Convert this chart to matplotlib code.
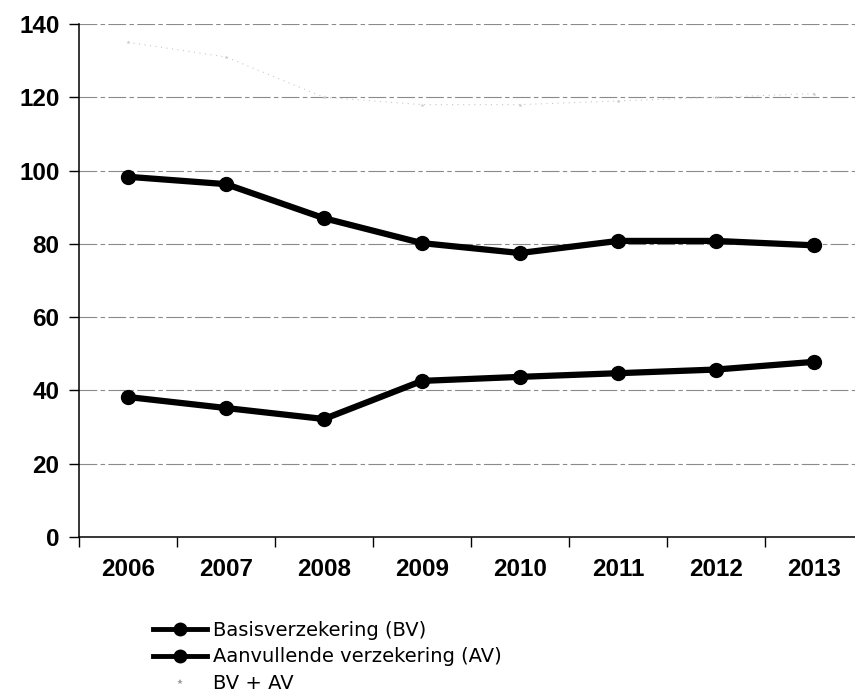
import matplotlib
matplotlib.use("Agg")
import matplotlib.pyplot as plt
import numpy as np

# data
years = ["2006", "2007", "2008", "2009", "2010", "2011", "2012", "2013"]
basis = [98.3, 96.3, 87.0, 80.2, 77.5, 80.8, 80.8, 79.6]
aanvullend = [38.2, 35.2, 32.2, 42.6, 43.7, 44.7, 45.7, 47.8]
bv_av = [135, 131, 120, 118, 118, 119, 120, 121]

labels = ["Basisverzekering (BV)", "Aanvullende verzekering (AV)", "BV + AV"]
y_ticks = [0, 20, 40, 60, 80, 100, 120, 140]

fig = plt.figure(figsize=(8.55, 6.95), dpi=100)
ax = fig.add_axes([79 / 855, 1 - 537 / 695, 784 / 855, 513 / 695])

x = np.arange(len(years))

# gridlines, scanned look: grey broken lines
for yv in y_ticks[1:]:
    ax.axhline(yv, color="#8a8a8a", lw=0.8, ls=(0, (16, 3, 4, 3)), zorder=0)

l1, = ax.plot(x, basis, color="black", lw=4.5, marker="o", ms=10, zorder=3)
l2, = ax.plot(x, aanvullend, color="black", lw=4.5, marker="o", ms=10, zorder=3)
l3, = ax.plot(x, bv_av, color="#c8c8c8", lw=0.8, ls=(0, (1, 4)), marker="*",
              ms=3, markeredgewidth=0, zorder=2)

ax.set_xlim(-0.5, 7.5)
ax.set_ylim(0, 140)
ax.set_yticks(y_ticks)
ax.set_yticklabels([str(v) for v in y_ticks])

# category labels centred, ticks between categories
ax.set_xticks(np.arange(0, 9) - 0.5)
ax.set_xticklabels([])
ax.set_xticks(x, minor=True)
ax.set_xticklabels(years, minor=True)
ax.tick_params(axis="x", which="minor", length=0, pad=15)
ax.tick_params(axis="x", which="major", length=7, width=1, direction="out")
ax.tick_params(axis="y", length=7, width=1, pad=7)

for lab in ax.get_yticklabels() + ax.get_xticklabels(minor=True):
    lab.set_fontfamily("Liberation Sans")
    lab.set_fontweight("bold")
    lab.set_fontsize(17.5)

for s in ["top", "right"]:
    ax.spines[s].set_visible(False)
for s in ["left", "bottom"]:
    ax.spines[s].set_linewidth(1.1)
    ax.spines[s].set_color("black")

leg = fig.legend([l1, l2, l3], labels, loc="upper left",
                 bbox_to_anchor=(153 / 855, 1 - 621 / 695), frameon=False,
                 prop={"family": "DejaVu Sans", "size": 14},
                 handlelength=2.8, handletextpad=0.3, labelspacing=0.38,
                 borderpad=0, borderaxespad=0)
for h in leg.legend_handles[:2]:
    h.set_linewidth(3.5)
    h.set_markersize(9)
# the BV + AV key shows only a faint speck
leg.legend_handles[2].set_linestyle("None")
leg.legend_handles[2].set_color("#9a9a9a")
leg.legend_handles[2].set_markersize(4)

fig.savefig("out.png", dpi=100)
